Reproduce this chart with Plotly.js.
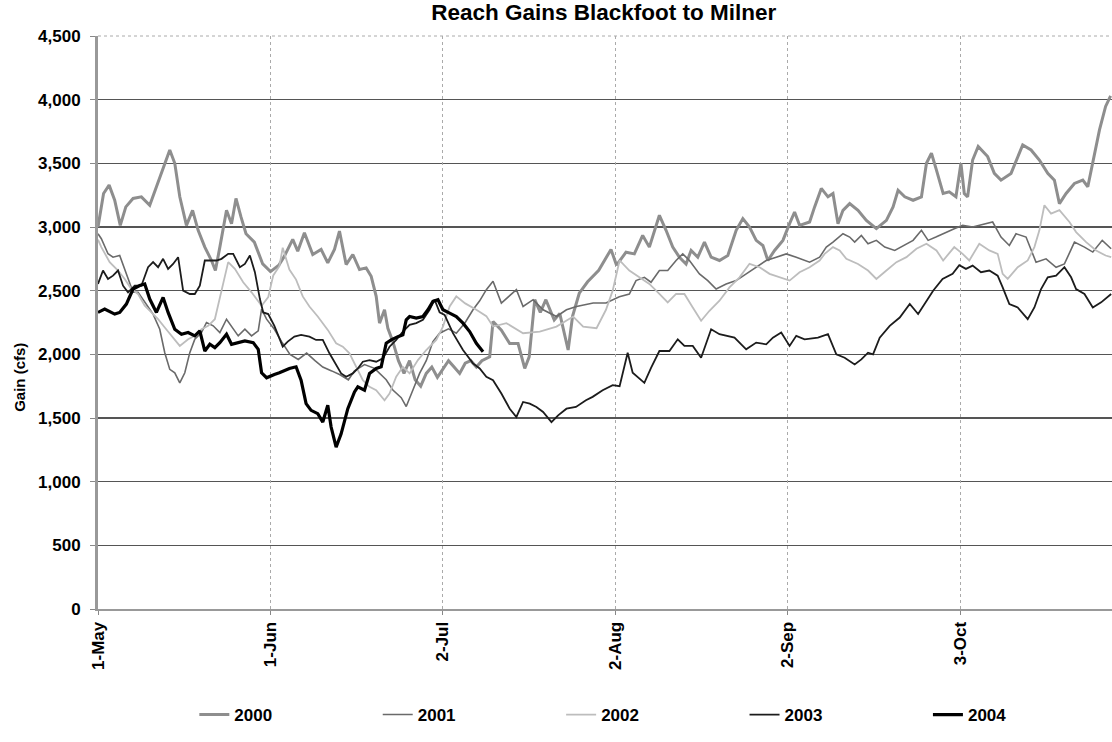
<!DOCTYPE html>
<html>
<head>
<meta charset="utf-8">
<script src="https://cdn.plot.ly/plotly-3.0.1.min.js"></script>
<style>
  html, body { margin: 0; padding: 0; background: #fff; }
  #chart { width: 1112px; height: 742px; }
</style>
</head>
<body>
<div id="chart"></div>
<script>
// Days after 1-May and gains (cfs)
const days2000 = [0,1,2,3,4,5,6.3,7.8,9.3,10.5,11.7,12.9,13.8,14.7,15.9,17,18,19.2,20.4,21.1,21.9,23.1,24,24.8,25.7,26.6,28.1,29.6,31,32.5,33.5,35,35.9,37.1,38.6,40.1,41.3,42.5,43.4,44.6,45.8,47,48.2,49.1,50,50.6,51.5,52.1,53,54,55,56,57,58,59,60,61,62,63,64,65,66,67,68,69,70.4,71,72.5,74,75.5,76.7,77.5,78.5,79.5,80.5,82,83,84.5,85.3,86.5,88,90,92.2,93.2,94.9,96.4,97.9,99.1,100,100.9,102.1,103.3,104.5,105.7,106.6,107.8,109,110.2,111.7,113.2,114.7,115.9,117.1,118.3,119.5,120.4,121.6,123.1,124.3,125.2,126.1,127.9,128.8,130,131.2,132.1,133,133.9,135.1,136.6,138.1,139.9,141.7,142.9,143.8,145,146.5,148,148.9,149.8,150.7,151.9,153,154.2,155.1,155.7,156.3,157.2,158.2,159.9,161.1,162.3,164.1,166.2,167.7,169.2,170.7,171.9,172.8,174,175.5,177,177.9,178.8,180,181.1,182];
const gain2000 = [3000,3263,3329,3210,3013,3158,3224,3237,3171,3316,3474,3605,3500,3237,3013,3131,2974,2842,2737,2658,2842,3131,3026,3224,3079,2947,2881,2710,2650,2700,2771,2903,2810,2955,2784,2824,2718,2824,2968,2705,2784,2666,2679,2613,2455,2245,2350,2205,2100,1950,1850,1950,1800,1750,1850,1900,1820,1880,1950,1900,1850,1930,1950,1900,1950,1981,2258,2190,2085,2085,1889,1980,2429,2330,2429,2270,2320,2034,2300,2480,2570,2660,2824,2700,2802,2789,2934,2842,2974,3092,2974,2842,2763,2710,2816,2763,2881,2763,2737,2776,2974,3066,3000,2895,2855,2737,2816,2895,3026,3118,3013,3039,3158,3303,3237,3263,3026,3131,3184,3131,3052,2987,3052,3158,3289,3237,3210,3237,3500,3579,3447,3263,3276,3237,3500,3263,3237,3526,3632,3553,3421,3368,3421,3645,3605,3526,3421,3368,3184,3263,3342,3368,3316,3500,3763,3947,4030];

const days2001 = [0,0.6,1.8,2.7,3.9,4.8,5.4,6.3,7.2,8.4,9.9,11.1,12,12.9,13.8,14.7,15.6,16.5,17.4,18.6,19.5,20.7,21.9,23.1,24,25.2,26.4,27.6,28.8,29.4,30.3,31.7,33,34.5,36,37.5,39,40.4,42,43.5,45,46.1,47.9,49.7,51.8,53,54.5,55.4,56.6,57.8,59,60.2,61.4,63,64.4,66,67.4,68.6,69.8,71,72.5,75.2,76.4,78.2,80,82.4,84.2,86,89,91.3,93.7,95.5,96.7,98.2,99.4,100.9,102.4,103.9,105.1,106.3,108.1,109.6,111.1,112.9,114.7,116.5,118.3,120.1,121.9,123.7,125.5,127.9,129.7,130.9,132.1,133.9,135.1,136,137.2,138.4,139.9,141.4,143.2,144.7,146.5,148,149.2,150.6,152.4,153.9,155.4,157.2,160.8,162.3,163.8,165,166.8,168.6,170.4,172.2,173.7,175.5,177.3,178.8,180.5,182.1];
const gain2001 = [2947,2908,2790,2763,2776,2671,2592,2487,2487,2408,2316,2197,2013,1882,1855,1776,1855,2013,2118,2171,2250,2224,2171,2276,2224,2145,2197,2145,2184,2355,2276,2197,2100,2000,1960,2010,1950,1900,1870,1840,1800,1870,1920,1890,1800,1720,1660,1590,1720,1850,1950,2100,2166,2200,2166,2250,2350,2420,2508,2574,2403,2508,2376,2429,2350,2297,2350,2376,2403,2403,2452,2473,2579,2605,2566,2658,2658,2737,2789,2737,2632,2579,2513,2552,2579,2632,2684,2737,2763,2789,2763,2724,2763,2842,2881,2947,2921,2881,2934,2868,2895,2842,2816,2855,2895,2974,2895,2921,2960,2987,3013,3000,3039,2921,2855,2947,2921,2723,2750,2684,2710,2881,2842,2803,2895,2829];

const days2002 = [0,0.6,2.1,3.6,4.8,6,7.2,8.4,9.6,10.8,12,13.2,14.7,16.2,17.4,18.6,19.8,21,22.2,23.4,24.6,26.1,27.6,29.4,30.6,31.5,32.6,33.2,34.4,35.6,36.8,38,39.5,41.3,42.8,44,45.2,46.4,47.6,48.8,50,51.5,52.4,53.6,54.8,56,57.5,59,60.8,62,63.2,64.4,66,68,69.8,71,73.4,76.4,79.4,82.4,85.4,87.2,89.6,91.3,92.5,93.75,95.5,97.3,99.1,100.9,102.4,103.9,105.4,106.9,108.4,109.9,111.7,113.5,115.3,117.1,118.9,120.7,122.5,124.3,126.1,127.9,129.7,130.6,132.1,133.3,134.5,136.6,138.4,139.9,141.7,143.5,145.3,147.1,148.9,150.7,151.9,153.9,155.4,156.6,158.4,160.2,161.7,162.6,163.5,165.3,167.1,168.3,169.2,170.1,171.3,172.8,174.6,175.8,177.6,179.4,181.1,182.1];
const gain2002 = [2900,2842,2724,2658,2592,2513,2474,2382,2329,2276,2211,2145,2066,2118,2145,2197,2224,2276,2513,2724,2671,2566,2487,2382,2450,2620,2692,2837,2666,2587,2455,2376,2297,2192,2087,2060,2008,1902,1797,1745,1718,1639,1692,1824,1902,1850,1955,2034,2113,2218,2376,2455,2400,2350,2300,2218,2245,2166,2179,2218,2297,2218,2205,2350,2500,2737,2658,2605,2553,2474,2408,2474,2474,2368,2263,2342,2421,2526,2605,2711,2684,2632,2605,2579,2645,2684,2737,2789,2842,2816,2750,2710,2658,2592,2658,2724,2763,2829,2868,2816,2737,2842,2789,2737,2868,2816,2789,2632,2592,2684,2737,2842,2974,3171,3105,3132,3039,2960,2881,2816,2776,2763];

const days2003 = [0,0.9,1.8,2.7,3.6,4.5,5.4,6.6,7.8,9,9.9,10.8,11.7,12.6,13.5,14.4,15.3,16.5,17.4,18.3,19.2,20.1,21.3,22.2,23.4,24.3,25.5,26.4,27.3,28.2,29.1,29.7,30.6,31.7,32,33.2,34.1,35.3,36.5,38,39.2,40.4,41.6,42.8,43.7,44.6,45.8,46.7,47.6,48.8,50,51.2,52.4,53.6,54.8,56,57.2,58.4,59.6,60.5,61.4,62.3,63.8,65.6,67.4,68.6,69.8,71,72.5,74,75.2,76.4,77.6,78.8,80,81.5,82.7,84.2,85.9,87.7,88.9,90.7,92.5,93.75,94.3,95.2,96.1,98.2,99.4,100.9,102.7,104.2,105.4,106.9,108.4,110.2,111.7,114.4,116.5,118.3,120.1,121.3,122.8,124.3,125.5,127,129.4,131.2,132.7,134.2,136,137.2,138.4,139.3,140.5,142.3,144.1,145.9,147.4,148.6,150.1,151.8,153.6,154.8,156,157.2,158.7,160.2,161.7,162.6,163.8,165.3,167.1,168.3,169.5,170.7,172.2,173.7,174.9,175.8,177.3,178.8,180.3,182.1];
const gain2003 = [2553,2658,2592,2618,2658,2539,2487,2539,2539,2684,2724,2684,2750,2671,2710,2763,2500,2474,2474,2539,2737,2737,2737,2750,2789,2789,2684,2710,2776,2645,2434,2329,2316,2224,2190,2060,2100,2139,2153,2139,2113,2113,2008,1916,1850,1824,1850,1889,1942,1955,1942,1968,2060,2113,2179,2231,2245,2271,2350,2429,2330,2310,2166,2034,1929,1889,1824,1797,1692,1573,1508,1626,1613,1587,1547,1468,1521,1573,1587,1639,1666,1718,1758,1750,1842,2013,1855,1776,1894,2026,2026,2118,2066,2066,1973,2197,2158,2131,2039,2092,2079,2131,2171,2066,2145,2118,2131,2158,2000,1973,1921,1960,2013,2000,2131,2224,2289,2395,2316,2395,2500,2592,2632,2700,2671,2697,2645,2658,2618,2526,2395,2368,2276,2368,2513,2605,2618,2684,2605,2513,2474,2368,2408,2474];

const days2004 = [0,1.2,3,3.9,5.1,6.3,7.5,8.4,9.3,10.5,11.7,12.6,13.8,15,16.2,17.4,18.3,19.2,20.1,21,21.9,23.1,24,25.2,26.4,27.9,28.8,29.4,30.3,31.7,32.6,34.4,35.6,36.5,37.4,38.3,39.5,40.4,41.3,41.9,42.8,43.7,44.9,46.1,46.7,47.9,48.8,50,50.9,51.8,52.7,53.9,54.8,55.4,56,57.2,58.4,59.3,60.2,61.1,62,63.2,64.4,65.6,66.8,68,69.2];
const gain2004 = [2329,2355,2316,2329,2395,2513,2540,2553,2434,2329,2447,2329,2197,2158,2171,2145,2184,2026,2079,2053,2092,2158,2079,2092,2105,2092,2039,1855,1816,1842,1855,1889,1902,1797,1613,1560,1534,1468,1600,1429,1271,1376,1573,1705,1745,1718,1850,1889,1902,2087,2113,2139,2153,2271,2297,2284,2297,2350,2416,2429,2350,2324,2297,2245,2179,2087,2021];

const seriesNames = ['2000','2001','2002','2003','2004'];
const tickDates = ['2000-05-01','2000-06-01','2000-07-02','2000-08-02','2000-09-02','2000-10-03'];
const tickLabels = ['1-May','1-Jun','2-Jul','2-Aug','2-Sep','3-Oct'];
const yTicks = [0,500,1000,1500,2000,2500,3000,3500,4000,4500];

const baseMs = Date.UTC(2000, 4, 1);
function toDate(d) {
  return new Date(baseMs + d * 86400000).toISOString().replace('T', ' ').replace('Z', '');
}

const styles = [
  {color: '#8e8e8e', width: 3},
  {color: '#6a6a6a', width: 1.6},
  {color: '#bdbdbd', width: 1.8},
  {color: '#1c1c1c', width: 1.8},
  {color: '#000000', width: 3.2}
];
const allDays = [days2000, days2001, days2002, days2003, days2004];
const allGain = [gain2000, gain2001, gain2002, gain2003, gain2004];

const traces = seriesNames.map((name, i) => ({
  type: 'scatter',
  mode: 'lines',
  name: '<b>' + name + '</b>',
  x: allDays[i].map(toDate),
  y: allGain[i],
  line: {color: styles[i].color, width: styles[i].width},
  hoverinfo: 'skip'
}));

const fam = '"Liberation Sans", Arial, sans-serif';

const layout = {
  width: 1112, height: 742,
  margin: {l: 98, r: 0, t: 36, b: 133},
  paper_bgcolor: '#fff', plot_bgcolor: '#fff',
  font: {family: fam, size: 17, color: '#000'},
  title: {
    text: '<b>Reach Gains Blackfoot to Milner</b>',
    font: {family: fam, size: 22.5, color: '#000'},
    x: 0.543, xref: 'container', xanchor: 'center',
    y: 0.984, yref: 'container', yanchor: 'middle'
  },
  xaxis: {
    type: 'date',
    range: [toDate(0), toDate(182.25)],
    tickmode: 'array',
    tickvals: tickDates,
    ticktext: tickLabels.map(t => '<b>' + t + '</b>'),
    tickangle: -90,
    tickfont: {family: fam, size: 17, color: '#000'},
    ticks: 'outside', ticklen: 4, tickcolor: '#888',
    showgrid: true, gridcolor: '#aaaaaa', griddash: 'dot', gridwidth: 1,
    showline: true, linecolor: '#999', linewidth: 2,
    zeroline: false
  },
  yaxis: {
    range: [0, 4500],
    tickmode: 'array',
    tickvals: yTicks,
    ticktext: yTicks.map(v => '<b>' + v.toLocaleString('en-US') + '</b>'),
    tickfont: {family: fam, size: 17, color: '#000'},
    ticks: 'outside', ticklen: 5, tickcolor: '#888',
    ticklabelstandoff: 6,
    showgrid: false,
    minor: {tickvals: yTicks.slice(1, -1), showgrid: true, gridcolor: '#555555', gridwidth: 1.3, ticks: ''},
    showline: true, linecolor: '#999', linewidth: 3,
    zeroline: false
  },
  annotations: [
    {text: '<b>Gain (cfs)</b>', textangle: -90, showarrow: false,
     xref: 'paper', yref: 'paper', x: -0.077, y: 0.405,
     xanchor: 'center', yanchor: 'middle',
     font: {family: fam, size: 15, color: '#000'}}
  ],
  shapes: [
    {type: 'line', xref: 'paper', yref: 'paper', x0: 0, x1: 1, y0: 1, y1: 1,
     line: {color: '#aaaaaa', width: 1, dash: 'dot'}, layer: 'below'}
  ],
  showlegend: true,
  legend: {
    orientation: 'h',
    x: 0.095, xanchor: 'left',
    y: -0.185, yanchor: 'middle',
    font: {family: fam, size: 17, color: '#000'},
    entrywidth: 138.4, entrywidthmode: 'pixels',
    bgcolor: 'rgba(0,0,0,0)'
  }
};

Plotly.newPlot('chart', traces, layout, {staticPlot: true, displayModeBar: false});
</script>
</body>
</html>
